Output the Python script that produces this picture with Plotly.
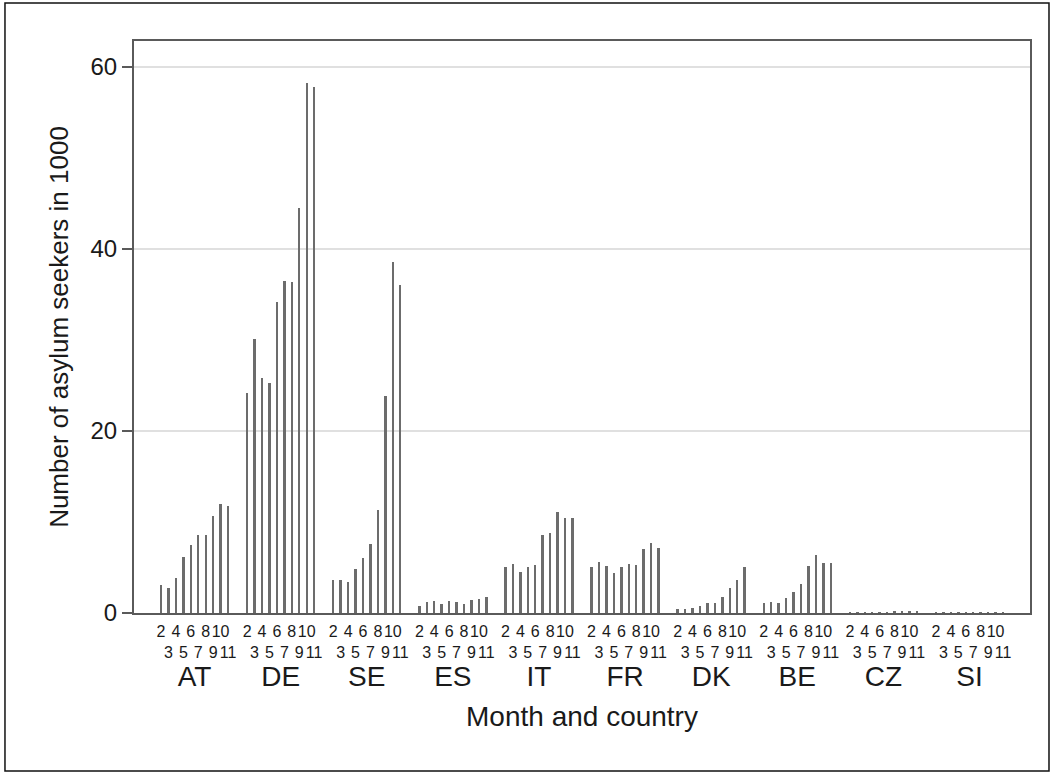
import plotly.graph_objects as go

# Monthly asylum applications (thousands), months 2..11
countries = ["AT", "DE", "SE", "ES", "IT", "FR", "DK", "BE", "CZ", "SI"]
months = [2, 3, 4, 5, 6, 7, 8, 9, 10, 11]

AT = [3.1, 2.8, 3.8, 6.2, 7.5, 8.6, 8.6, 10.6, 12.0, 11.7]
DE = [24.1, 30.1, 25.8, 25.2, 34.1, 36.5, 36.3, 44.5, 58.2, 57.7]
SE = [3.6, 3.6, 3.4, 4.8, 6.0, 7.6, 11.3, 23.8, 38.5, 36.0]
ES = [0.8, 1.2, 1.3, 1.0, 1.3, 1.2, 1.0, 1.4, 1.5, 1.8]
IT = [5.0, 5.4, 4.5, 5.1, 5.3, 8.6, 8.8, 11.1, 10.4, 10.4]
FR = [5.1, 5.6, 5.2, 4.4, 5.1, 5.4, 5.3, 7.0, 7.7, 7.1]
DK = [0.4, 0.4, 0.6, 0.8, 1.1, 1.1, 1.8, 2.7, 3.6, 5.0]
BE = [1.1, 1.2, 1.1, 1.6, 2.3, 3.2, 5.2, 6.4, 5.5, 5.5]
CZ = [0.08, 0.09, 0.1, 0.1, 0.11, 0.1, 0.12, 0.13, 0.14, 0.13]
SI = [0.02, 0.02, 0.02, 0.02, 0.03, 0.02, 0.03, 0.03, 0.05, 0.1]

series = [AT, DE, SE, ES, IT, FR, DK, BE, CZ, SI]

GROUP_STRIDE = 11.566   # distance between country groups, in bar slots
BAR_WIDTH = 0.32

xs, ys, tickvals, ticktext = [], [], [], []
for g, vals in enumerate(series):
    for i, (m, v) in enumerate(zip(months, vals)):
        x = g * GROUP_STRIDE + i
        xs.append(x)
        ys.append(v)
        tickvals.append(x)
        ticktext.append(str(m) if m % 2 == 0 else "\u00a0<br>" + str(m))

group_centers = [g * GROUP_STRIDE + 4.5 for g in range(len(countries))]

FONT = "Liberation Sans, Arial, sans-serif"

fig = go.Figure()
fig.add_trace(go.Bar(
    x=xs, y=ys, width=BAR_WIDTH,
    marker=dict(color="#6c6c6c", line=dict(width=0)),
    showlegend=False, hoverinfo="y",
))
# invisible trace carrying the country axis
fig.add_trace(go.Scatter(x=group_centers, y=[0] * len(countries), xaxis="x2",
                         mode="markers", marker=dict(opacity=0), showlegend=False,
                         hoverinfo="skip"))

x_range = [-3.63, 9 * GROUP_STRIDE + 9 + 3.63]

fig.update_layout(
    width=1055, height=776,
    margin=dict(l=134, r=25, t=41, b=163),
    paper_bgcolor="white", plot_bgcolor="white",
    font=dict(family=FONT, color="#1a1a1a"),
    bargap=0,
    xaxis=dict(
        range=x_range, tickmode="array", tickvals=tickvals, ticktext=ticktext,
        tickangle=0, tickfont=dict(size=16), ticks="", showgrid=False,
        showline=True, linecolor="#5a5a5a", linewidth=2, mirror=True,
        zeroline=False, ticklabelstandoff=3,
        title=dict(text="Month and country", font=dict(size=28), standoff=46),
    ),
    xaxis2=dict(
        range=x_range, overlaying="x", side="bottom", tickmode="array",
        tickvals=group_centers, ticktext=countries, tickfont=dict(size=28),
        ticks="", showgrid=False, showline=False, zeroline=False,
        ticklabelstandoff=44,
    ),
    yaxis=dict(
        range=[0, 62.8], tickmode="array", tickvals=[0, 20, 40, 60],
        tickfont=dict(size=24), ticks="outside", ticklen=10, tickwidth=1.5,
        tickcolor="#5a5a5a", showgrid=True, gridcolor="#e0e0e0", gridwidth=2,
        showline=True, linecolor="#5a5a5a", linewidth=2, mirror=True,
        zeroline=False,
        title=dict(text="Number of asylum seekers in 1000", font=dict(size=26), standoff=14),
    ),
    shapes=[dict(type="rect", xref="paper", yref="paper",
                 x0=-0.144, x1=1.0212, y0=-0.2762, y1=1.0664,
                 line=dict(color="#111111", width=1.5), layer="below")],
)

fig.write_html("out.html")
